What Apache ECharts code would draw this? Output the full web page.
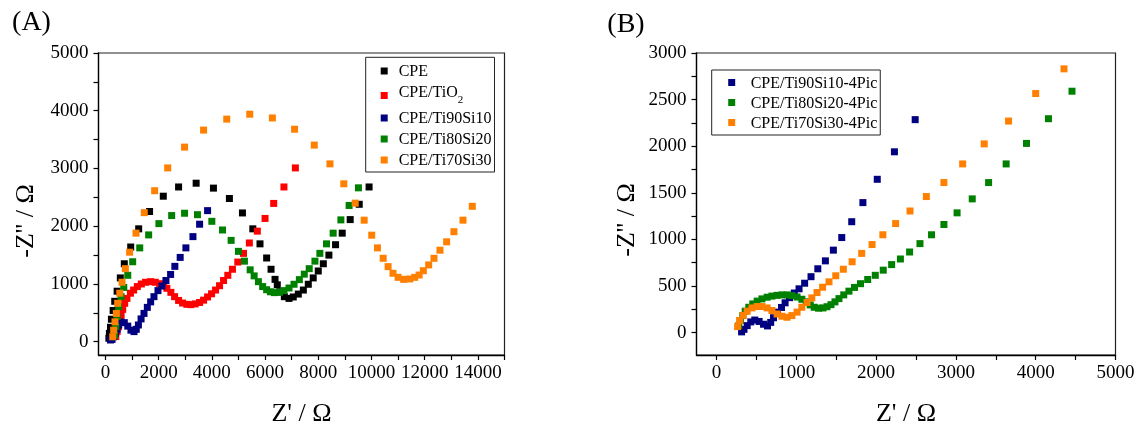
<!DOCTYPE html>
<html><head><meta charset="utf-8">
<script src="https://cdn.jsdelivr.net/npm/echarts@6/dist/echarts.min.js"></script>
<style>html,body{margin:0;padding:0;background:#fff}#c{width:1142px;height:425px}</style>
</head><body><div id="c"></div><script>
// ---------- Panel A data: [Z', -Z''] in ohm ----------
const namesA = ['CPE', 'CPE/TiO2', 'CPE/Ti90Si10', 'CPE/Ti80Si20', 'CPE/Ti70Si30'];
const dataCPE = [[9910,2680],[9540,2380],[9200,2115],[8900,1880],[8650,1680],[8400,1500],[8190,1350],[8000,1225],[7810,1105],[7625,995],[7440,895],[7250,825],[7060,775],[6900,750],[6725,780],[6560,865],[6460,985],[6375,1080],[6225,1255],[6060,1450],[5810,1695],[5540,1955],[5150,2230],[4660,2480],[4060,2660],[3410,2745],[2750,2680],[2175,2520],[1660,2255],[1250,1955],[950,1640],[710,1350],[560,1105],[440,875],[350,700],[290,540],[225,390],[190,250],[150,145],[130,60]];
const dataTiO2 = [[7140,3010],[6710,2680],[6325,2395],[6000,2135],[5710,1915],[5410,1710],[5190,1530],[4975,1380],[4775,1255],[4600,1150],[4440,1060],[4290,970],[4140,895],[3990,830],[3840,775],[3690,720],[3540,680],[3375,655],[3210,642],[3060,648],[2900,670],[2750,715],[2600,780],[2460,855],[2310,925],[2190,970],[2040,1005],[1875,1030],[1700,1040],[1510,1030],[1350,1000],[1200,955],[1060,895],[940,840],[810,750],[725,665],[650,560],[590,460],[540,350],[490,260],[440,175],[390,90]];
const dataTi90 = [[3840,2270],[3540,2035],[3290,1820],[3025,1625],[2810,1460],[2610,1305],[2450,1165],[2275,1060],[2125,965],[1975,885],[1825,780],[1700,690],[1575,595],[1450,490],[1340,395],[1240,290],[1160,215],[1075,175],[960,200],[840,270],[710,330],[590,340],[500,290],[440,215],[375,145],[310,85],[250,40],[190,30]];
const dataTi80 = [[9510,2665],[9160,2360],[8850,2110],[8560,1880],[8310,1695],[8060,1530],[7875,1395],[7660,1265],[7475,1170],[7290,1075],[7090,995],[6900,930],[6710,885],[6540,855],[6350,850],[6200,865],[6060,900],[5910,955],[5750,1040],[5590,1140],[5440,1245],[5225,1395],[5000,1565],[4725,1755],[4400,1935],[4000,2085],[3460,2200],[2975,2225],[2490,2185],[2010,2045],[1625,1850],[1290,1625],[1025,1385],[840,1150],[690,940],[590,780],[500,605],[440,435],[390,260],[340,115]];
const dataTi70 = [[13790,2345],[13440,2105],[13100,1905],[12825,1730],[12575,1585],[12350,1445],[12150,1330],[11950,1230],[11790,1155],[11625,1115],[11440,1087],[11210,1080],[11000,1115],[10810,1185],[10625,1300],[10440,1445],[10225,1625],[10010,1845],[9725,2105],[9390,2400],[8960,2735],[8440,3080],[7850,3405],[7110,3680],[6275,3875],[5425,3940],[4560,3855],[3690,3665],[2975,3370],[2340,3010],[1850,2615],[1460,2235],[1150,1880],[910,1550],[750,1265],[625,1030],[540,840],[460,665],[410,490],[360,345],[310,200],[275,85]];

// ---------- Panel B data ----------
const namesB = ['CPE/Ti90Si10-4Pic', 'CPE/Ti80Si20-4Pic', 'CPE/Ti70Si30-4Pic'];
const dataB90 = [[2490,2285],[2230,1940],[2015,1645],[1835,1395],[1695,1190],[1570,1020],[1465,885],[1365,770],[1270,685],[1185,600],[1105,530],[1035,470],[975,425],[915,375],[860,320],[815,270],[765,220],[715,160],[680,110],[640,72],[590,90],[535,120],[480,135],[430,115],[385,75],[345,35],[315,8]];
const dataB80 = [[4455,2590],[4160,2295],[3885,2030],[3630,1810],[3410,1610],[3205,1435],[3015,1285],[2850,1160],[2695,1050],[2550,955],[2420,865],[2305,790],[2195,730],[2090,670],[1990,615],[1895,570],[1805,525],[1730,485],[1660,445],[1595,405],[1535,365],[1485,330],[1435,300],[1385,278],[1335,265],[1280,262],[1225,272],[1175,297],[1125,330],[1070,358],[1010,382],[945,398],[885,405],[820,405],[760,400],[695,392],[635,380],[570,362],[510,338],[455,308],[405,272],[360,230],[330,183],[300,130],[280,75]];
const dataB70 = [[4355,2830],[4000,2565],[3660,2270],[3355,2025],[3085,1810],[2850,1610],[2630,1460],[2425,1305],[2245,1170],[2085,1050],[1950,945],[1820,850],[1700,760],[1590,680],[1495,610],[1410,545],[1330,487],[1260,430],[1195,373],[1135,323],[1070,272],[1010,220],[945,183],[885,165],[820,176],[760,200],[695,237],[635,265],[570,280],[510,280],[445,265],[385,230],[335,185],[290,130],[265,65]];

// ---------- ticks ----------
const ticksAX = [0,1000,2000,3000,4000,5000,6000,7000,8000,9000,10000,11000,12000,13000,14000,15000];
const labelsAX = [0,2000,4000,6000,8000,10000,12000,14000];
const ticksAY = [0,500,1000,1500,2000,2500,3000,3500,4000,4500,5000];
const labelsAY = [0,1000,2000,3000,4000,5000];
const ticksBX = [0,500,1000,1500,2000,2500,3000,3500,4000,4500,5000];
const labelsBX = [0,1000,2000,3000,4000,5000];
const ticksBY = [0,250,500,750,1000,1250,1500,1750,2000,2250,2500,2750,3000];
const labelsBY = [0,500,1000,1500,2000,2500,3000];

const colors = {k:'#000000', r:'#ff0000', b:'#000080', g:'#008000', o:'#ff8000'};
const FONT = '"Liberation Serif","DejaVu Serif","Times New Roman",serif';

function axis(gridIndex, min, max, ticks, labels, isY){
  return {
    type:'value', gridIndex, min, max,
    axisLine:{show:true, onZero:false, lineStyle:{color:'#000', width:1.3}},
    axisTick:{show:true, inside:false, length:5, customValues:ticks, lineStyle:{color:'#000', width:1.2}},
    axisLabel:{customValues:labels, fontFamily:FONT, fontSize:19, color:'#000', margin: isY ? 10 : 9,
      formatter: v => String(v)},
    splitLine:{show:false}
  };
}
function sc(name, data, color, xi){
  return {type:'scatter', name, data, xAxisIndex:xi, yAxisIndex:xi, symbol:'rect', symbolSize:7,
    itemStyle:{color, opacity:1}, emphasis:{disabled:true}, z:2};
}
function legend(names, left, top, padding, gap, padLeft){
  return {
    data: names, orient:'vertical', left, top, padding, itemGap:gap, itemWidth:7, itemHeight:7,
    icon:'rect', borderColor:'#222', borderWidth:1, selectedMode:false,
    itemStyle:{opacity:1},
    formatter: n => n === 'CPE/TiO2' ? '{t|CPE/TiO}{s|2}' : '{t|' + n + '}',
    textStyle:{fontFamily:FONT, fontSize:16, color:'#000', lineHeight:14,
      rich:{
        t:{fontFamily:FONT, fontSize:16, color:'#000', lineHeight:14, padding:[0,0,0,padLeft], verticalAlign:'top'},
        s:{fontFamily:FONT, fontSize:11, color:'#000', lineHeight:21, verticalAlign:'bottom'}
      }}
  };
}
function txt(x, y, text, size, rot){
  return {type:'text', x, y, rotation: rot || 0, silent:true,
    style:{text, fontFamily:FONT, fontSize:size, fill:'#000', align:'center', verticalAlign:'middle'}};
}

const chart = echarts.init(document.getElementById('c'), null, {renderer:'canvas'});
chart.setOption({
  animation:false,
  backgroundColor:'#fff',
  grid:[
    {left:98.5, top:53, width:406, height:302, show:true, borderColor:'#222', borderWidth:1.2, containLabel:false},
    {left:696.5, top:53, width:419, height:302, show:true, borderColor:'#222', borderWidth:1.2, containLabel:false}
  ],
  xAxis:[axis(0, -260, 15000, ticksAX, labelsAX, false), axis(1, -250, 5000, ticksBX, labelsBX, false)],
  yAxis:[axis(0, -230, 5000, ticksAY, labelsAY, true), axis(1, -240, 3000, ticksBY, labelsBY, true)],
  legend:[
    legend(namesA, 365.7, 57.3, [6.7, 3, 3, 15], 5, 6),
    legend(namesB, 711.7, 70, [5.5, 3, 3.5, 16.5], 4, 10.5)
  ],
  series:[
    sc(namesA[0], dataCPE, colors.k, 0),
    sc(namesA[1], dataTiO2, colors.r, 0),
    sc(namesA[2], dataTi90, colors.b, 0),
    sc(namesA[3], dataTi80, colors.g, 0),
    sc(namesA[4], dataTi70, colors.o, 0),
    sc(namesB[0], dataB90, colors.b, 1),
    sc(namesB[1], dataB80, colors.g, 1),
    sc(namesB[2], dataB70, colors.o, 1)
  ],
  graphic:[
    txt(31.5, 23, '(A)', 28),
    txt(626, 25, '(B)', 28),
    txt(301.5, 414, "Z' / Ω", 26),
    txt(906, 414, "Z' / Ω", 26),
    txt(26, 221, "-Z'' / Ω", 26, Math.PI/2),
    txt(627, 220, "-Z'' / Ω", 26, Math.PI/2)
  ]
});
</script></body></html>
